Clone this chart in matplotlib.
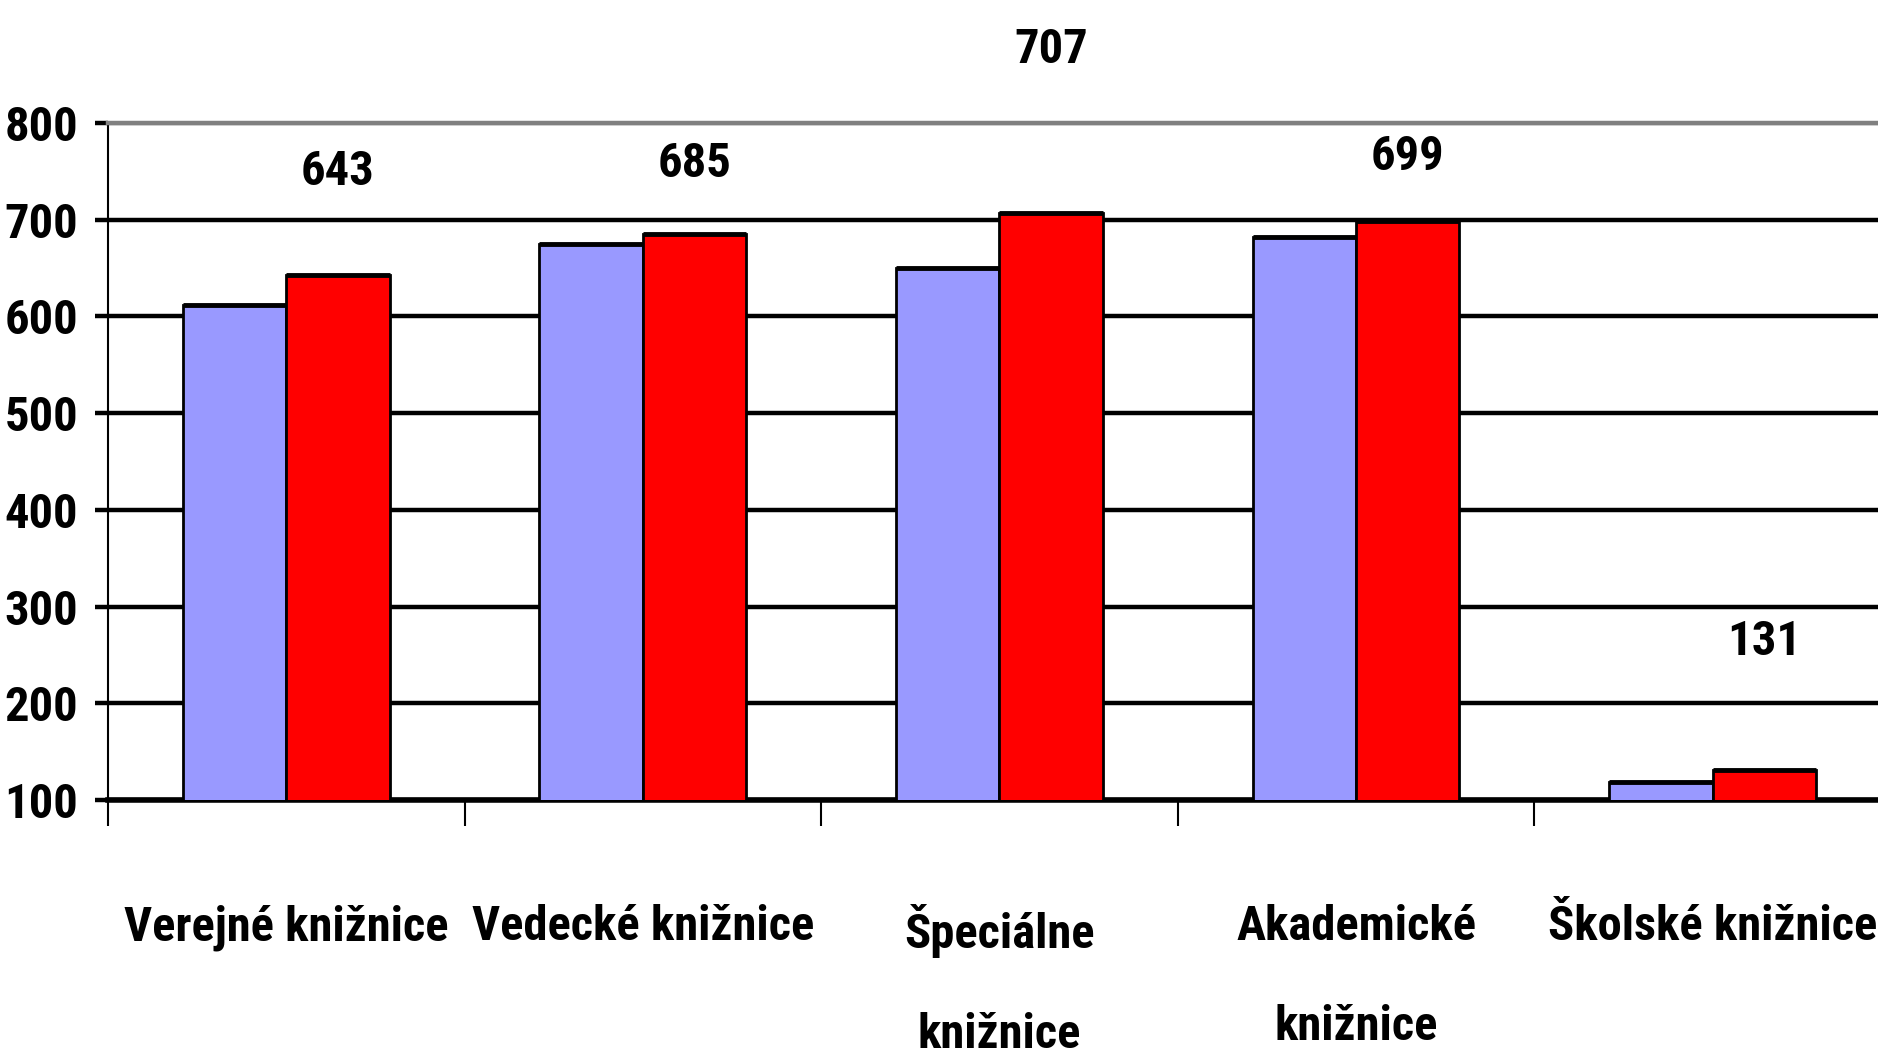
import numpy as np
import matplotlib
matplotlib.use("Agg")
import matplotlib.pyplot as plt
from matplotlib import font_manager

# data
categories = ["Verejné knižnice", "Vedecké knižnice", "Špeciálne\nknižnice",
              "Akademické\nknižnice", "Školské knižnice"]
values_prev = [612, 675, 650, 682, 119]
values_curr = [643, 685, 707, 699, 131]
label_heights = [749, 758, 875, 765, 263]   # where the value labels sit (data units)
y_ticks = [100, 200, 300, 400, 500, 600, 700, 800]


# the original uses a narrow bold face; look for one that is installed
def pick_narrow_font():
    wanted = ["LiberationSansNarrow-Bold", "NotoSans-ExtraCondensedBold",
              "RobotoCondensed-Bold", "NotoSans-CondensedBold",
              "OpenSans-CondBold", "OpenSans_Condensed-Bold",
              "DejaVuSansCondensed-Bold"]
    files = [f.fname for f in font_manager.fontManager.ttflist]
    for w in wanted:
        for f in files:
            if w.lower() in f.lower().replace(" ", ""):
                return font_manager.FontProperties(fname=f), True
    return font_manager.FontProperties(family="Liberation Sans", weight="bold"), False


fp, narrow = pick_narrow_font()
size = 35 if narrow else 29
fp.set_size(size)

fig = plt.figure(figsize=(18.78, 10.60), dpi=100)
ax = fig.add_axes([0.0575, 0.2453, 0.9494, 0.6387])

x = np.arange(len(categories))
w = 0.29
ax.bar(x - w / 2, values_prev, w, color="#9999FF",
       edgecolor="black", linewidth=2, zorder=3)
ax.bar(x + w / 2, values_curr, w, color="#FF0000",
       edgecolor="black", linewidth=2, zorder=3)
# heavier top edge like the original
ax.hlines(values_prev, x - w, x, color="black", linewidth=3.5, zorder=4)
ax.hlines(values_curr, x, x + w, color="black", linewidth=3.5, zorder=4)

for xi, v, ly in zip(x, values_curr, label_heights):
    ax.text(xi + w / 2, ly, str(v), ha="center", va="center",
            fontproperties=fp, clip_on=False, zorder=5)

ax.set_xlim(-0.5, len(categories) - 0.5)
ax.set_ylim(100, 800)
ax.set_yticks(y_ticks)
ax.set_yticklabels([str(t) for t in y_ticks], fontproperties=fp)
ax.tick_params(axis="y", length=9.5, width=3.2, pad=12)

# category labels centred, tick marks between groups
ax.set_xticks(x)
ax.set_xticklabels(categories, fontproperties=fp, linespacing=2.5)
ax.tick_params(axis="x", which="major", length=0, pad=75)
ax.set_xticks(np.arange(len(categories)) - 0.5, minor=True)
ax.tick_params(axis="x", which="minor", length=19, width=1.5)

ax.yaxis.grid(True, color="black", linewidth=3.2)
ax.get_ygridlines()[-1].set_color("#808080")
ax.set_axisbelow(True)

ax.spines["right"].set_visible(False)
ax.spines["top"].set_color("#808080")
ax.spines["top"].set_linewidth(3.2)
ax.spines["bottom"].set_linewidth(4)
ax.spines["left"].set_linewidth(1.5)

plt.savefig("out.png", dpi=100)
